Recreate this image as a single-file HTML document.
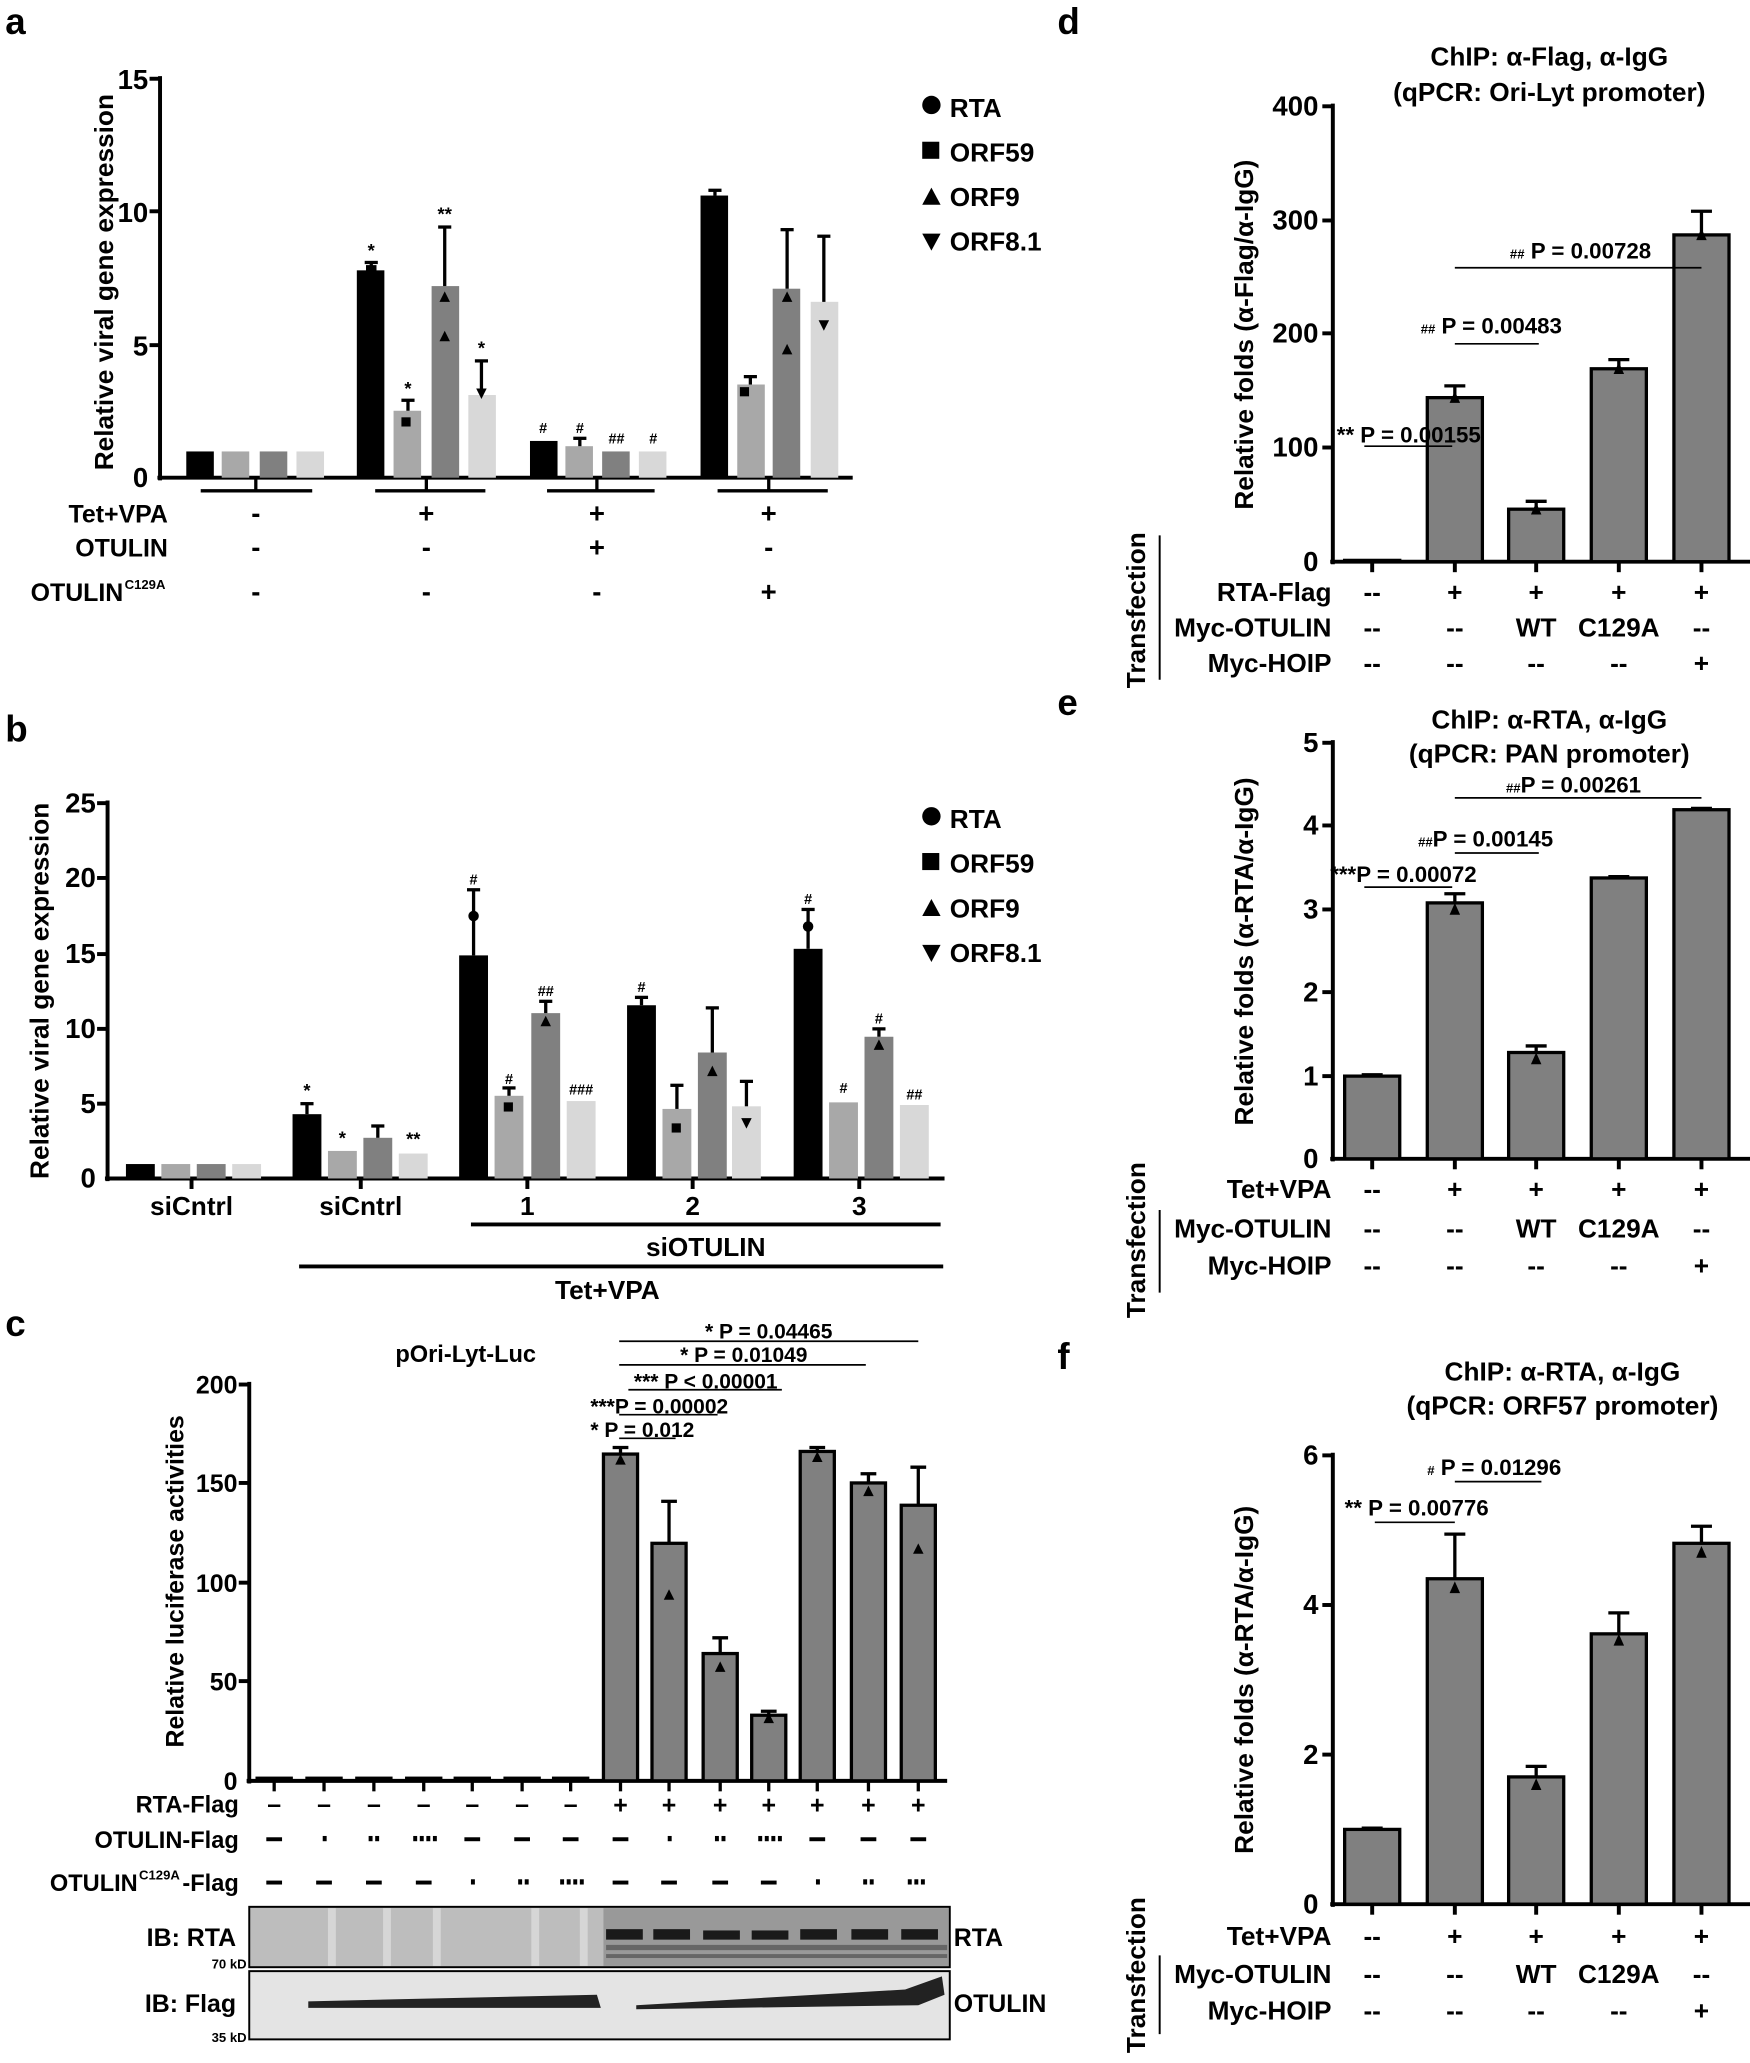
<!DOCTYPE html>
<html><head><meta charset="utf-8"><style>
html,body{margin:0;padding:0;background:#fff}
svg{display:block}
text{font-family:"Liberation Sans",Arial,sans-serif;font-weight:bold;fill:#000}
</style></head><body>
<svg width="1750" height="2063" viewBox="0 0 1334 1572" preserveAspectRatio="none" xmlns="http://www.w3.org/2000/svg">
<rect width="1334" height="1572" fill="#fff"/>

<!-- ================= PANEL A ================= -->
<text x="4" y="26" font-size="28">a</text>
<text transform="translate(86,215) rotate(-90)" font-size="20" text-anchor="middle">Relative viral gene expression</text>
<g stroke="#000" stroke-width="3" fill="none">
<line x1="122" y1="58" x2="122" y2="366"/>
<line x1="120" y1="364" x2="650" y2="364"/>
<line x1="114" y1="60" x2="122" y2="60"/><line x1="114" y1="161" x2="122" y2="161"/><line x1="114" y1="263" x2="122" y2="263"/>
</g>
<g font-size="21" text-anchor="end"><text x="113" y="68">15</text><text x="113" y="169">10</text><text x="113" y="271">5</text><text x="113" y="371">0</text></g>
<g>
<rect x="142" y="344" width="21" height="20" fill="#000"/><rect x="169" y="344" width="21" height="20" fill="#a8a8a8"/><rect x="198" y="344" width="21" height="20" fill="#808080"/><rect x="226" y="344" width="21" height="20" fill="#d8d8d8"/>
<rect x="272" y="206" width="21" height="158" fill="#000"/><rect x="300" y="313" width="21" height="51" fill="#a8a8a8"/><rect x="329" y="218" width="21" height="146" fill="#808080"/><rect x="357" y="301" width="21" height="63" fill="#d8d8d8"/>
<rect x="404" y="336" width="21" height="28" fill="#000"/><rect x="431" y="340" width="21" height="24" fill="#a8a8a8"/><rect x="459" y="344" width="21" height="20" fill="#808080"/><rect x="487" y="344" width="21" height="20" fill="#d8d8d8"/>
<rect x="534" y="149" width="21" height="215" fill="#000"/><rect x="562" y="293" width="21" height="71" fill="#a8a8a8"/><rect x="589" y="220" width="21" height="144" fill="#808080"/><rect x="618" y="230" width="21" height="134" fill="#d8d8d8"/>
</g>
<g stroke="#000" stroke-width="2.5">
<line x1="283" y1="206" x2="283" y2="200"/><line x1="278" y1="200" x2="288" y2="200"/>
<line x1="311" y1="313" x2="311" y2="305"/><line x1="306" y1="305" x2="316" y2="305"/>
<line x1="339" y1="218" x2="339" y2="173"/><line x1="334" y1="173" x2="344" y2="173"/>
<line x1="367" y1="301" x2="367" y2="275"/><line x1="362" y1="275" x2="372" y2="275"/>
<line x1="442" y1="340" x2="442" y2="334"/><line x1="437" y1="334" x2="447" y2="334"/>
<line x1="545" y1="149" x2="545" y2="145"/><line x1="540" y1="145" x2="550" y2="145"/>
<line x1="572" y1="293" x2="572" y2="287"/><line x1="567" y1="287" x2="577" y2="287"/>
<line x1="600" y1="220" x2="600" y2="175"/><line x1="595" y1="175" x2="605" y2="175"/>
<line x1="628" y1="230" x2="628" y2="180"/><line x1="623" y1="180" x2="633" y2="180"/>
</g>
<g fill="#000">
<rect x="279" y="202" width="8" height="8"/><rect x="306" y="318" width="7" height="7"/><polygon points="335,230 343,230 339,222"/><polygon points="335,260 343,260 339,252"/><polygon points="363,296 371,296 367,304"/>
<polygon points="596,230 604,230 600,222"/><polygon points="596,270 604,270 600,262"/><polygon points="624,244 632,244 628,252"/><rect x="564" y="295" width="7" height="7"/>
</g>
<g font-size="14" text-anchor="middle" font-weight="normal">
<text x="283" y="196">*</text><text x="311" y="301">*</text><text x="339" y="168">**</text><text x="367" y="270">*</text>
<text x="414" y="330" font-size="11">#</text><text x="442" y="330" font-size="11">#</text><text x="470" y="338" font-size="11">##</text><text x="498" y="338" font-size="11">#</text>
</g>
<g stroke="#000" stroke-width="2.5">
<line x1="153" y1="374" x2="238" y2="374"/><line x1="286" y1="374" x2="370" y2="374"/><line x1="417" y1="374" x2="499" y2="374"/><line x1="547" y1="374" x2="631" y2="374"/>
<line x1="195" y1="364" x2="195" y2="374"/><line x1="325" y1="364" x2="325" y2="374"/><line x1="455" y1="364" x2="455" y2="374"/><line x1="586" y1="364" x2="586" y2="374"/>
</g>
<g font-size="19" text-anchor="end"><text x="128" y="398">Tet+VPA</text><text x="128" y="424">OTULIN</text><text x="94" y="458">OTULIN</text></g>
<text x="95" y="449" font-size="10">C129A</text>
<g font-size="21" text-anchor="middle">
<text x="195" y="398">-</text><text x="325" y="398">+</text><text x="455" y="398">+</text><text x="586" y="398">+</text>
<text x="195" y="424">-</text><text x="325" y="424">-</text><text x="455" y="424">+</text><text x="586" y="424">-</text>
<text x="195" y="458">-</text><text x="325" y="458">-</text><text x="455" y="458">-</text><text x="586" y="458">+</text>
</g>
<circle cx="710" cy="80" r="7"/><rect x="703" y="108" width="13" height="13"/><polygon points="703,156 717,156 710,143"/><polygon points="703,178 717,178 710,191"/>
<g font-size="20"><text x="724" y="89">RTA</text><text x="724" y="123">ORF59</text><text x="724" y="157">ORF9</text><text x="724" y="191">ORF8.1</text></g>

<!-- ================= PANEL B ================= -->
<text x="4" y="565" font-size="28">b</text>
<text transform="translate(37,755) rotate(-90)" font-size="20" text-anchor="middle">Relative viral gene expression</text>
<g stroke="#000" stroke-width="3" fill="none">
<line x1="82" y1="610" x2="82" y2="900"/><line x1="80" y1="898" x2="720" y2="898"/>
<line x1="74" y1="612" x2="82" y2="612"/><line x1="74" y1="669" x2="82" y2="669"/><line x1="74" y1="727" x2="82" y2="727"/><line x1="74" y1="784" x2="82" y2="784"/><line x1="74" y1="841" x2="82" y2="841"/>
<line x1="146" y1="898" x2="146" y2="906"/><line x1="275" y1="898" x2="275" y2="906"/><line x1="402" y1="898" x2="402" y2="906"/><line x1="528" y1="898" x2="528" y2="906"/><line x1="655" y1="898" x2="655" y2="906"/>
</g>
<g font-size="21" text-anchor="end"><text x="73" y="619">25</text><text x="73" y="676">20</text><text x="73" y="734">15</text><text x="73" y="791">10</text><text x="73" y="848">5</text><text x="73" y="905">0</text></g>
<g>
<rect x="96" y="887" width="22" height="11" fill="#000"/><rect x="123" y="887" width="22" height="11" fill="#a8a8a8"/><rect x="150" y="887" width="22" height="11" fill="#808080"/><rect x="177" y="887" width="22" height="11" fill="#d8d8d8"/>
<rect x="223" y="849" width="22" height="49" fill="#000"/><rect x="250" y="877" width="22" height="21" fill="#a8a8a8"/><rect x="277" y="867" width="22" height="31" fill="#808080"/><rect x="304" y="879" width="22" height="19" fill="#d8d8d8"/>
<rect x="350" y="728" width="22" height="170" fill="#000"/><rect x="377" y="835" width="22" height="63" fill="#a8a8a8"/><rect x="405" y="772" width="22" height="126" fill="#808080"/><rect x="432" y="839" width="22" height="59" fill="#d8d8d8"/>
<rect x="478" y="766" width="22" height="132" fill="#000"/><rect x="505" y="845" width="22" height="53" fill="#a8a8a8"/><rect x="532" y="802" width="22" height="96" fill="#808080"/><rect x="558" y="843" width="22" height="55" fill="#d8d8d8"/>
<rect x="605" y="723" width="22" height="175" fill="#000"/><rect x="632" y="840" width="22" height="58" fill="#a8a8a8"/><rect x="659" y="790" width="22" height="108" fill="#808080"/><rect x="686" y="842" width="22" height="56" fill="#d8d8d8"/>
</g>
<g stroke="#000" stroke-width="2.5">
<line x1="234" y1="849" x2="234" y2="841"/><line x1="229" y1="841" x2="239" y2="841"/>
<line x1="288" y1="867" x2="288" y2="858"/><line x1="283" y1="858" x2="293" y2="858"/>
<line x1="361" y1="728" x2="361" y2="678"/><line x1="356" y1="678" x2="366" y2="678"/>
<line x1="388" y1="835" x2="388" y2="829"/><line x1="383" y1="829" x2="393" y2="829"/>
<line x1="416" y1="772" x2="416" y2="763"/><line x1="411" y1="763" x2="421" y2="763"/>
<line x1="489" y1="766" x2="489" y2="760"/><line x1="484" y1="760" x2="494" y2="760"/>
<line x1="516" y1="845" x2="516" y2="827"/><line x1="511" y1="827" x2="521" y2="827"/>
<line x1="543" y1="802" x2="543" y2="768"/><line x1="538" y1="768" x2="548" y2="768"/>
<line x1="569" y1="843" x2="569" y2="824"/><line x1="564" y1="824" x2="574" y2="824"/>
<line x1="616" y1="723" x2="616" y2="693"/><line x1="611" y1="693" x2="621" y2="693"/>
<line x1="670" y1="790" x2="670" y2="784"/><line x1="665" y1="784" x2="675" y2="784"/>
</g>
<g fill="#000">
<circle cx="361" cy="698" r="4"/><circle cx="616" cy="706" r="4"/><rect x="384" y="840" width="7" height="7"/><rect x="512" y="856" width="7" height="7"/><polygon points="412,782 420,782 416,774"/><polygon points="539,820 547,820 543,812"/><polygon points="565,852 573,852 569,860"/><polygon points="666,800 674,800 670,792"/>
</g>
<g font-size="14" text-anchor="middle" font-weight="normal">
<text x="234" y="836">*</text><text x="261" y="872">*</text><text x="315" y="873">**</text>
<text x="361" y="674" font-size="11">#</text><text x="388" y="826" font-size="11">#</text><text x="416" y="759" font-size="11">##</text><text x="443" y="834" font-size="11">###</text>
<text x="489" y="756" font-size="11">#</text>
<text x="616" y="689" font-size="11">#</text><text x="643" y="833" font-size="11">#</text><text x="670" y="780" font-size="11">#</text><text x="697" y="838" font-size="11">##</text>
</g>
<g font-size="20" text-anchor="middle"><text x="146" y="926">siCntrl</text><text x="275" y="926">siCntrl</text><text x="402" y="926">1</text><text x="528" y="926">2</text><text x="655" y="926">3</text>
<text x="538" y="957">siOTULIN</text><text x="463" y="990">Tet+VPA</text></g>
<g stroke="#000" stroke-width="3"><line x1="359" y1="933" x2="717" y2="933"/><line x1="228" y1="965" x2="719" y2="965"/></g>
<circle cx="710" cy="622" r="7"/><rect x="703" y="650" width="13" height="13"/><polygon points="703,698 717,698 710,685"/><polygon points="703,720 717,720 710,733"/>
<g font-size="20"><text x="724" y="631">RTA</text><text x="724" y="665">ORF59</text><text x="724" y="699">ORF9</text><text x="724" y="733">ORF8.1</text></g>

<!-- ================= PANEL C ================= -->
<text x="4" y="1018" font-size="28">c</text>
<text x="355" y="1038" font-size="18" text-anchor="middle">pOri-Lyt-Luc</text>
<text transform="translate(140,1205) rotate(-90)" font-size="19" text-anchor="middle">Relative luciferase activities</text>
<g stroke="#000" stroke-width="3" fill="none">
<line x1="190" y1="1053" x2="190" y2="1359"/><line x1="188" y1="1357" x2="722" y2="1357"/>
<line x1="182" y1="1055" x2="190" y2="1055"/><line x1="182" y1="1130" x2="190" y2="1130"/><line x1="182" y1="1206" x2="190" y2="1206"/><line x1="182" y1="1281" x2="190" y2="1281"/>
</g>
<g font-size="19" text-anchor="end"><text x="181" y="1062">200</text><text x="181" y="1137">150</text><text x="181" y="1213">100</text><text x="181" y="1288">50</text><text x="181" y="1364">0</text></g>
<g fill="#808080" stroke="#000" stroke-width="2.5">
<rect x="196" y="1355" width="26" height="2"/><rect x="234" y="1355" width="26" height="2"/><rect x="272" y="1355" width="26" height="2"/><rect x="310" y="1355" width="26" height="2"/><rect x="347" y="1355" width="26" height="2"/><rect x="385" y="1355" width="26" height="2"/><rect x="422" y="1355" width="26" height="2"/>
<rect x="460" y="1108" width="26" height="249"/><rect x="497" y="1176" width="26" height="181"/><rect x="536" y="1260" width="26" height="97"/><rect x="573" y="1307" width="26" height="50"/><rect x="610" y="1106" width="26" height="251"/><rect x="649" y="1130" width="26" height="227"/><rect x="687" y="1147" width="26" height="210"/>
</g>
<g stroke="#000" stroke-width="2.5">
<line x1="473" y1="1108" x2="473" y2="1103"/><line x1="467" y1="1103" x2="479" y2="1103"/>
<line x1="510" y1="1176" x2="510" y2="1144"/><line x1="504" y1="1144" x2="516" y2="1144"/>
<line x1="549" y1="1260" x2="549" y2="1248"/><line x1="543" y1="1248" x2="555" y2="1248"/>
<line x1="586" y1="1307" x2="586" y2="1304"/><line x1="580" y1="1304" x2="592" y2="1304"/>
<line x1="623" y1="1106" x2="623" y2="1103"/><line x1="617" y1="1103" x2="629" y2="1103"/>
<line x1="662" y1="1130" x2="662" y2="1123"/><line x1="656" y1="1123" x2="668" y2="1123"/>
<line x1="700" y1="1147" x2="700" y2="1118"/><line x1="694" y1="1118" x2="706" y2="1118"/>
<line x1="209" y1="1357" x2="209" y2="1365"/><line x1="247" y1="1357" x2="247" y2="1365"/><line x1="285" y1="1357" x2="285" y2="1365"/><line x1="323" y1="1357" x2="323" y2="1365"/><line x1="360" y1="1357" x2="360" y2="1365"/><line x1="398" y1="1357" x2="398" y2="1365"/><line x1="435" y1="1357" x2="435" y2="1365"/><line x1="473" y1="1357" x2="473" y2="1365"/><line x1="510" y1="1357" x2="510" y2="1365"/><line x1="549" y1="1357" x2="549" y2="1365"/><line x1="586" y1="1357" x2="586" y2="1365"/><line x1="623" y1="1357" x2="623" y2="1365"/><line x1="662" y1="1357" x2="662" y2="1365"/><line x1="700" y1="1357" x2="700" y2="1365"/>
</g>
<g stroke="#000" stroke-width="1.3">
<line x1="472" y1="1022" x2="700" y2="1022"/><line x1="472" y1="1040" x2="660" y2="1040"/><line x1="479" y1="1059" x2="596" y2="1059"/><line x1="472" y1="1078" x2="547" y2="1078"/><line x1="472" y1="1096" x2="515" y2="1096"/>
</g>
<g font-size="16"><text x="586" y="1020" text-anchor="middle">* P = 0.04465</text><text x="567" y="1038" text-anchor="middle">* P = 0.01049</text><text x="538" y="1058" text-anchor="middle">*** P &lt; 0.00001</text><text x="450" y="1077">***P = 0.00002</text><text x="450" y="1095">* P = 0.012</text></g>
<g font-size="18" text-anchor="end"><text x="182" y="1381">RTA-Flag</text><text x="182" y="1408">OTULIN-Flag</text><text x="105" y="1441">OTULIN</text><text x="182" y="1441">-Flag</text></g>
<text x="106" y="1432" font-size="10">C129A</text>
<g font-size="19" text-anchor="middle">
<text x="209" y="1381">–</text><text x="247" y="1381">–</text><text x="285" y="1381">–</text><text x="323" y="1381">–</text><text x="360" y="1381">–</text><text x="398" y="1381">–</text><text x="435" y="1381">–</text><text x="473" y="1382">+</text><text x="510" y="1382">+</text><text x="549" y="1382">+</text><text x="586" y="1382">+</text><text x="623" y="1382">+</text><text x="662" y="1382">+</text><text x="700" y="1382">+</text>
</g>
<g fill="#000">
<rect x="203" y="1400" width="12" height="3"/><rect x="246" y="1399" width="3" height="4"/><rect x="281" y="1399" width="3" height="4"/><rect x="286" y="1399" width="3" height="4"/><rect x="315" y="1399" width="3" height="4"/><rect x="320" y="1399" width="3" height="4"/><rect x="325" y="1399" width="3" height="4"/><rect x="330" y="1399" width="3" height="4"/><rect x="354" y="1400" width="12" height="3"/><rect x="392" y="1400" width="12" height="3"/><rect x="429" y="1400" width="12" height="3"/><rect x="467" y="1400" width="12" height="3"/><rect x="509" y="1399" width="3" height="4"/><rect x="545" y="1399" width="3" height="4"/><rect x="550" y="1399" width="3" height="4"/><rect x="578" y="1399" width="3" height="4"/><rect x="583" y="1399" width="3" height="4"/><rect x="588" y="1399" width="3" height="4"/><rect x="593" y="1399" width="3" height="4"/><rect x="617" y="1400" width="12" height="3"/><rect x="656" y="1400" width="12" height="3"/><rect x="694" y="1400" width="12" height="3"/>
<rect x="203" y="1433" width="12" height="3"/><rect x="241" y="1433" width="12" height="3"/><rect x="279" y="1433" width="12" height="3"/><rect x="317" y="1433" width="12" height="3"/><rect x="359" y="1432" width="3" height="4"/><rect x="395" y="1432" width="3" height="4"/><rect x="400" y="1432" width="3" height="4"/><rect x="427" y="1432" width="3" height="4"/><rect x="432" y="1432" width="3" height="4"/><rect x="437" y="1432" width="3" height="4"/><rect x="442" y="1432" width="3" height="4"/><rect x="467" y="1433" width="12" height="3"/><rect x="504" y="1433" width="12" height="3"/><rect x="543" y="1433" width="12" height="3"/><rect x="580" y="1433" width="12" height="3"/><rect x="622" y="1432" width="3" height="4"/><rect x="658" y="1432" width="3" height="4"/><rect x="663" y="1432" width="3" height="4"/><rect x="692" y="1432" width="3" height="4"/><rect x="697" y="1432" width="3" height="4"/><rect x="702" y="1432" width="3" height="4"/>
</g>
<rect x="190" y="1453" width="534" height="46" fill="#bdbdbd" stroke="#000" stroke-width="1.5"/>
<g fill="#d6d6d6"><rect x="250" y="1454" width="6" height="44"/><rect x="292" y="1454" width="6" height="44"/><rect x="330" y="1454" width="6" height="44"/><rect x="405" y="1454" width="6" height="44"/><rect x="442" y="1454" width="6" height="44"/></g>
<g fill="#999"><rect x="460" y="1454" width="263" height="44"/></g>
<g fill="#1a1a1a"><rect x="462" y="1470" width="28" height="8"/><rect x="498" y="1470" width="28" height="8"/><rect x="536" y="1471" width="28" height="7"/><rect x="573" y="1471" width="28" height="7"/><rect x="610" y="1470" width="28" height="8"/><rect x="649" y="1470" width="28" height="8"/><rect x="687" y="1470" width="28" height="8"/></g>
<g fill="#666"><rect x="462" y="1482" width="260" height="4"/><rect x="462" y="1489" width="260" height="3"/></g>
<rect x="190" y="1502" width="534" height="52" fill="#e4e4e4" stroke="#000" stroke-width="1.5"/>
<g fill="#222">
<path d="M235,1525 L455,1520 L458,1530 L235,1530 Z"/>
<path d="M485,1528 L690,1516 L718,1506 L720,1520 L700,1528 L485,1531 Z"/>
</g>
<g font-size="19" text-anchor="end"><text x="180" y="1483">IB: RTA</text><text x="180" y="1533">IB: Flag</text></g>
<g font-size="10" font-weight="normal" text-anchor="end"><text x="188" y="1500">70 kD</text><text x="188" y="1556">35 kD</text></g>
<g font-size="19"><text x="727" y="1483">RTA</text><text x="727" y="1533">OTULIN</text></g>

<!-- ================= PANEL D ================= -->
<text x="806" y="26" font-size="28">d</text>
<text x="1181" y="50" font-size="20" text-anchor="middle">ChIP: α-Flag, α-IgG</text>
<text x="1181" y="77" font-size="20" text-anchor="middle">(qPCR: Ori-Lyt promoter)</text>
<text transform="translate(955,255) rotate(-90)" font-size="20" text-anchor="middle">Relative folds (α-Flag/α-IgG)</text>
<g stroke="#000" stroke-width="3" fill="none">
<line x1="1016" y1="79" x2="1016" y2="430"/><line x1="1014" y1="428" x2="1334" y2="428"/>
<line x1="1008" y1="81" x2="1016" y2="81"/><line x1="1008" y1="168" x2="1016" y2="168"/><line x1="1008" y1="254" x2="1016" y2="254"/><line x1="1008" y1="341" x2="1016" y2="341"/>
<line x1="1046" y1="428" x2="1046" y2="436"/><line x1="1109" y1="428" x2="1109" y2="436"/><line x1="1171" y1="428" x2="1171" y2="436"/><line x1="1234" y1="428" x2="1234" y2="436"/><line x1="1297" y1="428" x2="1297" y2="436"/>
</g>
<g font-size="21" text-anchor="end"><text x="1005" y="88">400</text><text x="1005" y="175">300</text><text x="1005" y="261">200</text><text x="1005" y="348">100</text><text x="1005" y="435">0</text></g>
<g fill="#808080" stroke="#000" stroke-width="2.5">
<rect x="1025" y="427" width="42" height="1"/><rect x="1088" y="303" width="42" height="125"/><rect x="1150" y="388" width="42" height="40"/><rect x="1213" y="281" width="42" height="147"/><rect x="1276" y="179" width="42" height="249"/>
</g>
<g stroke="#000" stroke-width="2.5">
<line x1="1109" y1="303" x2="1109" y2="294"/><line x1="1101" y1="294" x2="1117" y2="294"/>
<line x1="1171" y1="388" x2="1171" y2="382"/><line x1="1163" y1="382" x2="1179" y2="382"/>
<line x1="1234" y1="281" x2="1234" y2="274"/><line x1="1226" y1="274" x2="1242" y2="274"/>
<line x1="1297" y1="179" x2="1297" y2="161"/><line x1="1289" y1="161" x2="1305" y2="161"/>
</g>
<g stroke="#000" stroke-width="1.3"><line x1="1040" y1="340" x2="1107" y2="340"/><line x1="1109" y1="262" x2="1173" y2="262"/><line x1="1109" y1="204" x2="1297" y2="204"/></g>
<g font-size="17"><text x="1019" y="337">** P = 0.00155</text><text x="1083" y="254"><tspan font-size="10">##</tspan> P = 0.00483</text><text x="1151" y="197"><tspan font-size="10">##</tspan> P = 0.00728</text></g>
<g font-size="20" text-anchor="end"><text x="1015" y="458">RTA-Flag</text><text x="1015" y="485">Myc-OTULIN</text><text x="1015" y="512">Myc-HOIP</text></g>
<g font-size="20" text-anchor="middle">
<text x="1046" y="458">--</text><text x="1109" y="458">+</text><text x="1171" y="458">+</text><text x="1234" y="458">+</text><text x="1297" y="458">+</text>
<text x="1046" y="485">--</text><text x="1109" y="485">--</text><text x="1171" y="485">WT</text><text x="1234" y="485">C129A</text><text x="1297" y="485">--</text>
<text x="1046" y="512">--</text><text x="1109" y="512">--</text><text x="1171" y="512">--</text><text x="1234" y="512">--</text><text x="1297" y="512">+</text>
</g>
<text transform="translate(873,465) rotate(-90)" font-size="20" text-anchor="middle">Transfection</text>
<line x1="884" y1="408" x2="884" y2="518" stroke="#000" stroke-width="1.5"/>

<!-- ================= PANEL E ================= -->
<text x="806" y="545" font-size="28">e</text>
<text x="1181" y="555" font-size="20" text-anchor="middle">ChIP: α-RTA, α-IgG</text>
<text x="1181" y="581" font-size="20" text-anchor="middle">(qPCR: PAN promoter)</text>
<text transform="translate(955,725) rotate(-90)" font-size="20" text-anchor="middle">Relative folds (α-RTA/α-IgG)</text>
<g stroke="#000" stroke-width="3" fill="none">
<line x1="1016" y1="564" x2="1016" y2="885"/><line x1="1014" y1="883" x2="1334" y2="883"/>
<line x1="1008" y1="566" x2="1016" y2="566"/><line x1="1008" y1="629" x2="1016" y2="629"/><line x1="1008" y1="693" x2="1016" y2="693"/><line x1="1008" y1="756" x2="1016" y2="756"/><line x1="1008" y1="820" x2="1016" y2="820"/>
<line x1="1046" y1="883" x2="1046" y2="891"/><line x1="1109" y1="883" x2="1109" y2="891"/><line x1="1171" y1="883" x2="1171" y2="891"/><line x1="1234" y1="883" x2="1234" y2="891"/><line x1="1297" y1="883" x2="1297" y2="891"/>
</g>
<g font-size="21" text-anchor="end"><text x="1005" y="573">5</text><text x="1005" y="636">4</text><text x="1005" y="700">3</text><text x="1005" y="763">2</text><text x="1005" y="827">1</text><text x="1005" y="890">0</text></g>
<g fill="#808080" stroke="#000" stroke-width="2.5">
<rect x="1025" y="820" width="42" height="63"/><rect x="1088" y="688" width="42" height="195"/><rect x="1150" y="802" width="42" height="81"/><rect x="1213" y="669" width="42" height="214"/><rect x="1276" y="617" width="42" height="266"/>
</g>
<g stroke="#000" stroke-width="2.5">
<line x1="1109" y1="688" x2="1109" y2="681"/><line x1="1101" y1="681" x2="1117" y2="681"/>
<line x1="1171" y1="802" x2="1171" y2="797"/><line x1="1163" y1="797" x2="1179" y2="797"/>
<line x1="1226" y1="668" x2="1242" y2="668"/><line x1="1289" y1="616" x2="1305" y2="616"/><line x1="1038" y1="819" x2="1054" y2="819"/>
</g>
<g stroke="#000" stroke-width="1.3"><line x1="1040" y1="676" x2="1107" y2="676"/><line x1="1109" y1="650" x2="1173" y2="650"/><line x1="1109" y1="608" x2="1297" y2="608"/></g>
<g font-size="17"><text x="1014" y="672">***P = 0.00072</text><text x="1081" y="645"><tspan font-size="10">##</tspan>P = 0.00145</text><text x="1148" y="604"><tspan font-size="10">##</tspan>P = 0.00261</text></g>
<g font-size="20" text-anchor="end"><text x="1015" y="913">Tet+VPA</text><text x="1015" y="943">Myc-OTULIN</text><text x="1015" y="971">Myc-HOIP</text></g>
<g font-size="20" text-anchor="middle">
<text x="1046" y="913">--</text><text x="1109" y="913">+</text><text x="1171" y="913">+</text><text x="1234" y="913">+</text><text x="1297" y="913">+</text>
<text x="1046" y="943">--</text><text x="1109" y="943">--</text><text x="1171" y="943">WT</text><text x="1234" y="943">C129A</text><text x="1297" y="943">--</text>
<text x="1046" y="971">--</text><text x="1109" y="971">--</text><text x="1171" y="971">--</text><text x="1234" y="971">--</text><text x="1297" y="971">+</text>
</g>
<text transform="translate(873,945) rotate(-90)" font-size="20" text-anchor="middle">Transfection</text>
<line x1="884" y1="922" x2="884" y2="985" stroke="#000" stroke-width="1.5"/>

<!-- ================= PANEL F ================= -->
<text x="806" y="1043" font-size="28">f</text>
<text x="1191" y="1052" font-size="20" text-anchor="middle">ChIP: α-RTA, α-IgG</text>
<text x="1191" y="1078" font-size="20" text-anchor="middle">(qPCR: ORF57 promoter)</text>
<text transform="translate(955,1280) rotate(-90)" font-size="20" text-anchor="middle">Relative folds (α-RTA/α-IgG)</text>
<g stroke="#000" stroke-width="3" fill="none">
<line x1="1016" y1="1107" x2="1016" y2="1453"/><line x1="1014" y1="1451" x2="1334" y2="1451"/>
<line x1="1008" y1="1109" x2="1016" y2="1109"/><line x1="1008" y1="1223" x2="1016" y2="1223"/><line x1="1008" y1="1337" x2="1016" y2="1337"/>
<line x1="1046" y1="1451" x2="1046" y2="1459"/><line x1="1109" y1="1451" x2="1109" y2="1459"/><line x1="1171" y1="1451" x2="1171" y2="1459"/><line x1="1234" y1="1451" x2="1234" y2="1459"/><line x1="1297" y1="1451" x2="1297" y2="1459"/>
</g>
<g font-size="21" text-anchor="end"><text x="1005" y="1116">6</text><text x="1005" y="1230">4</text><text x="1005" y="1344">2</text><text x="1005" y="1458">0</text></g>
<g fill="#808080" stroke="#000" stroke-width="2.5">
<rect x="1025" y="1394" width="42" height="57"/><rect x="1088" y="1203" width="42" height="248"/><rect x="1150" y="1354" width="42" height="97"/><rect x="1213" y="1245" width="42" height="206"/><rect x="1276" y="1176" width="42" height="275"/>
</g>
<g stroke="#000" stroke-width="2.5">
<line x1="1109" y1="1203" x2="1109" y2="1169"/><line x1="1101" y1="1169" x2="1117" y2="1169"/>
<line x1="1171" y1="1354" x2="1171" y2="1346"/><line x1="1163" y1="1346" x2="1179" y2="1346"/>
<line x1="1234" y1="1245" x2="1234" y2="1229"/><line x1="1226" y1="1229" x2="1242" y2="1229"/>
<line x1="1297" y1="1176" x2="1297" y2="1163"/><line x1="1289" y1="1163" x2="1305" y2="1163"/>
<line x1="1038" y1="1393" x2="1054" y2="1393"/>
</g>
<g stroke="#000" stroke-width="1.3"><line x1="1048" y1="1160" x2="1109" y2="1160"/><line x1="1109" y1="1129" x2="1175" y2="1129"/></g>
<g font-size="17"><text x="1025" y="1155">** P = 0.00776</text><text x="1088" y="1124"><tspan font-size="10">#</tspan> P = 0.01296</text></g>
<g font-size="20" text-anchor="end"><text x="1015" y="1482">Tet+VPA</text><text x="1015" y="1511">Myc-OTULIN</text><text x="1015" y="1539">Myc-HOIP</text></g>
<g font-size="20" text-anchor="middle">
<text x="1046" y="1482">--</text><text x="1109" y="1482">+</text><text x="1171" y="1482">+</text><text x="1234" y="1482">+</text><text x="1297" y="1482">+</text>
<text x="1046" y="1511">--</text><text x="1109" y="1511">--</text><text x="1171" y="1511">WT</text><text x="1234" y="1511">C129A</text><text x="1297" y="1511">--</text>
<text x="1046" y="1539">--</text><text x="1109" y="1539">--</text><text x="1171" y="1539">--</text><text x="1234" y="1539">--</text><text x="1297" y="1539">+</text>
</g>
<text transform="translate(873,1505) rotate(-90)" font-size="20" text-anchor="middle">Transfection</text>
<line x1="884" y1="1490" x2="884" y2="1550" stroke="#000" stroke-width="1.5"/>

<g fill="#000">
<polygon points="1105,307 1113,307 1109,298"/><polygon points="1167,392 1175,392 1171,383"/><polygon points="1230,285 1238,285 1234,276"/><polygon points="1293,183 1301,183 1297,174"/>
<polygon points="1105,697 1113,697 1109,688"/><polygon points="1167,811 1175,811 1171,802"/>
<polygon points="1105,1214 1113,1214 1109,1205"/><polygon points="1167,1364 1175,1364 1171,1355"/><polygon points="1230,1254 1238,1254 1234,1245"/><polygon points="1293,1187 1301,1187 1297,1178"/>
<polygon points="469,1116 477,1116 473,1108"/><polygon points="506,1219 514,1219 510,1211"/><polygon points="545,1274 553,1274 549,1266"/><polygon points="582,1313 590,1313 586,1305"/><polygon points="619,1114 627,1114 623,1106"/><polygon points="658,1140 666,1140 662,1132"/><polygon points="696,1184 704,1184 700,1176"/>
</g>
</svg>
</body></html>
